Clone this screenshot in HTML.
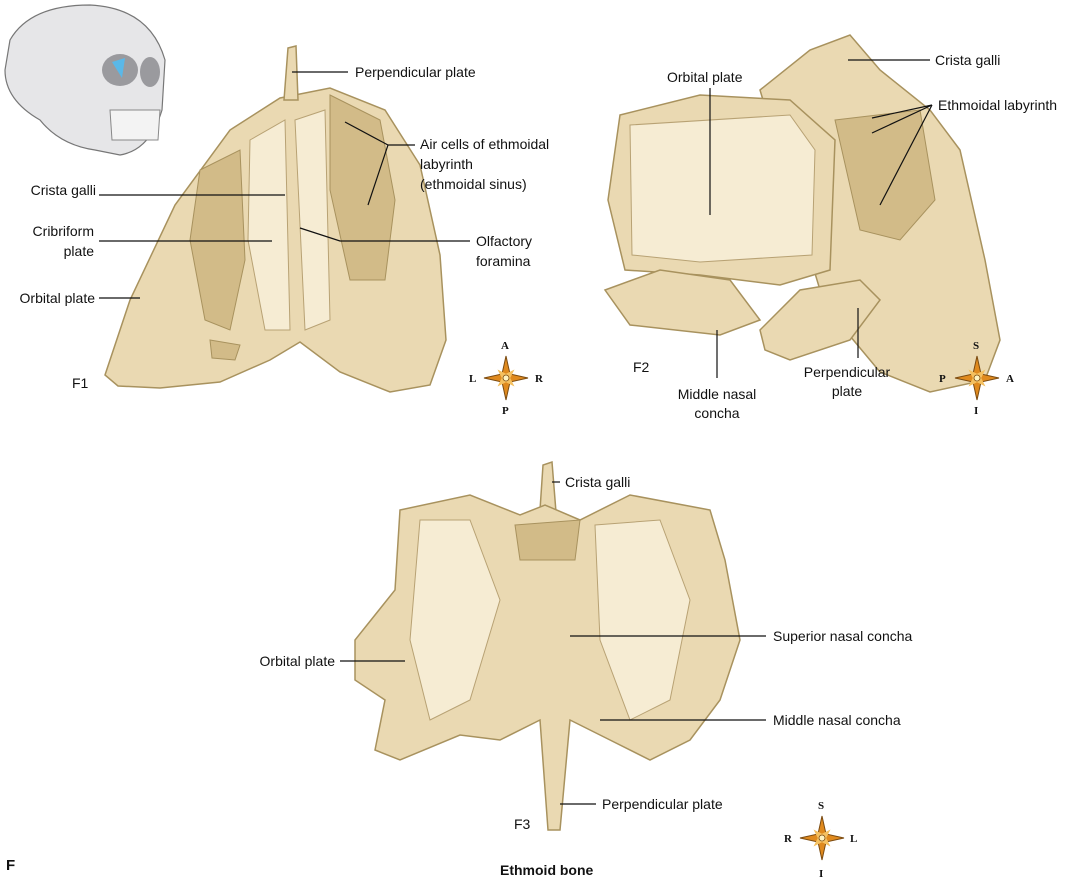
<!DOCTYPE html>
<html><head><meta charset="utf-8"><style>
html,body{margin:0;padding:0;background:#fff;}
svg{display:block;}
text{font-family:"Liberation Sans",sans-serif;font-size:14px;fill:#111;}
.b{fill:#ead9b2;stroke:#a8925e;stroke-width:1.5;}
.d{fill:#d2bb88;stroke:#a8925e;stroke-width:1;}
.l{fill:#f6ecd3;stroke:#b8a274;stroke-width:1;}
.ln{stroke:#111;stroke-width:1.2;fill:none;}
</style></head><body>
<svg width="1076" height="877" viewBox="0 0 1076 877" xmlns="http://www.w3.org/2000/svg">
<defs>
<g id="rose">
<polygon points="0,-22 4,-4 22,0 4,4 0,22 -4,4 -22,0 -4,-4" fill="#e08a1e" stroke="#7a4a10" stroke-width="1"/>
<polygon points="0,-12 3,-3 12,0 3,3 0,12 -3,3 -12,0 -3,-3" fill="#f4c060" transform="rotate(45)"/>
<circle r="3" fill="#fff3c0" stroke="#7a4a10" stroke-width="0.8"/>
</g>
</defs>
<!-- skull -->
<g>
<path d="M10,40 Q30,5 90,5 Q150,8 165,60 L162,110 Q150,150 120,155 L95,150 Q60,145 40,120 Q5,100 5,70 Z" fill="#e6e6e8" stroke="#777" stroke-width="1.2"/>
<ellipse cx="120" cy="70" rx="18" ry="16" fill="#9a9a9e"/>
<ellipse cx="150" cy="72" rx="10" ry="15" fill="#9a9a9e"/>
<path d="M112,62 L125,58 L122,78 Z" fill="#5ab8e8"/>
<path d="M110,110 L160,110 L158,140 L112,140 Z" fill="#f3f3f3" stroke="#888"/>
</g>
<!-- F1 bone -->
<path class="b" d="M105,375 L130,300 L175,205 L230,130 L280,98 L330,88 L385,110 L420,165 L440,255 L446,340 L430,385 L390,392 L340,372 L300,342 L270,360 L220,382 L160,388 L118,386 Z"/>
<path class="b" d="M284,100 L288,48 L296,46 L298,100 Z"/>
<path class="d" d="M200,170 L240,150 L245,260 L230,330 L205,320 L190,240 Z"/>
<path class="d" d="M330,95 L380,120 L395,200 L385,280 L350,280 L330,190 Z"/>
<path class="l" d="M250,140 L285,120 L290,330 L265,330 L248,240 Z"/>
<path class="l" d="M295,120 L325,110 L330,320 L305,330 Z"/>
<path class="d" d="M210,340 L240,345 L235,360 L212,358 Z"/>
<!-- F2 bone -->
<path class="b" d="M760,90 L810,50 L850,35 L880,70 L930,110 L960,150 L985,260 L1000,340 L985,380 L930,392 L880,372 L845,330 L820,290 Z"/>
<path class="b" d="M620,115 L700,95 L790,100 L835,140 L830,270 L780,285 L700,275 L625,270 L608,200 Z"/>
<path class="l" d="M630,125 L790,115 L815,150 L812,255 L700,262 L632,255 Z"/>
<path class="d" d="M835,120 L920,110 L935,200 L900,240 L860,230 Z"/>
<path class="b" d="M605,290 L660,270 L730,280 L760,320 L720,335 L630,325 Z"/>
<path class="b" d="M760,330 L800,290 L860,280 L880,300 L850,340 L790,360 L765,350 Z"/>
<!-- F3 bone -->
<path class="b" d="M540,510 L543,465 L552,462 L556,512 Z"/>
<path class="b" d="M400,510 L470,495 L520,515 L545,505 L580,520 L630,495 L710,510 L725,560 L740,640 L720,700 L690,740 L650,760 L610,740 L570,720 L560,830 L548,830 L540,720 L500,740 L460,735 L400,760 L375,750 L385,700 L355,680 L355,640 L395,590 Z"/>
<path class="l" d="M420,520 L470,520 L500,600 L470,700 L430,720 L410,640 Z"/>
<path class="l" d="M595,525 L660,520 L690,600 L670,700 L630,720 L600,640 Z"/>
<path class="d" d="M515,525 L580,520 L575,560 L520,560 Z"/>
<!-- roses -->
<use href="#rose" x="506" y="378"/>
<use href="#rose" x="977" y="378"/>
<use href="#rose" x="822" y="838"/>
<g style="font-family:'Liberation Serif',serif;font-size:11px;font-weight:bold">
<text x="501" y="349" style="font-family:'Liberation Serif',serif;font-size:11px;font-weight:bold">A</text>
<text x="502" y="414" style="font-family:'Liberation Serif',serif;font-size:11px;font-weight:bold">P</text>
<text x="469" y="382" style="font-family:'Liberation Serif',serif;font-size:11px;font-weight:bold">L</text>
<text x="535" y="382" style="font-family:'Liberation Serif',serif;font-size:11px;font-weight:bold">R</text>
<text x="973" y="349" style="font-family:'Liberation Serif',serif;font-size:11px;font-weight:bold">S</text>
<text x="974" y="414" style="font-family:'Liberation Serif',serif;font-size:11px;font-weight:bold">I</text>
<text x="939" y="382" style="font-family:'Liberation Serif',serif;font-size:11px;font-weight:bold">P</text>
<text x="1006" y="382" style="font-family:'Liberation Serif',serif;font-size:11px;font-weight:bold">A</text>
<text x="818" y="809" style="font-family:'Liberation Serif',serif;font-size:11px;font-weight:bold">S</text>
<text x="819" y="877" style="font-family:'Liberation Serif',serif;font-size:11px;font-weight:bold">I</text>
<text x="784" y="842" style="font-family:'Liberation Serif',serif;font-size:11px;font-weight:bold">R</text>
<text x="850" y="842" style="font-family:'Liberation Serif',serif;font-size:11px;font-weight:bold">L</text>
</g>
<!-- leader lines -->
<path class="ln" d="M292,72 H348"/>
<path class="ln" d="M415,145 H388 L345,122 M388,145 L368,205"/>
<path class="ln" d="M99,195 H285"/>
<path class="ln" d="M99,241 H272"/>
<path class="ln" d="M99,298 H140"/>
<path class="ln" d="M470,241 H340 L300,228"/>
<path class="ln" d="M710,88 V215"/>
<path class="ln" d="M848,60 H930"/>
<path class="ln" d="M932,105 L872,118 M932,105 L872,133 M932,105 L880,205"/>
<path class="ln" d="M717,330 V378"/>
<path class="ln" d="M858,308 V358"/>
<path class="ln" d="M552,482 H560"/>
<path class="ln" d="M570,636 H766"/>
<path class="ln" d="M340,661 H405"/>
<path class="ln" d="M600,720 H766"/>
<path class="ln" d="M560,804 H596"/>
<!-- labels -->
<text x="355" y="77">Perpendicular plate</text>
<text x="420" y="149">Air cells of ethmoidal</text>
<text x="420" y="169">labyrinth</text>
<text x="420" y="189">(ethmoidal sinus)</text>
<text x="96" y="195" text-anchor="end">Crista galli</text>
<text x="94" y="236" text-anchor="end">Cribriform</text>
<text x="94" y="256" text-anchor="end">plate</text>
<text x="95" y="303" text-anchor="end">Orbital plate</text>
<text x="476" y="246">Olfactory</text>
<text x="476" y="266">foramina</text>
<text x="72" y="388">F1</text>
<text x="667" y="82">Orbital plate</text>
<text x="935" y="65">Crista galli</text>
<text x="938" y="110">Ethmoidal labyrinth</text>
<text x="633" y="372">F2</text>
<text x="717" y="399" text-anchor="middle">Middle nasal</text>
<text x="717" y="418" text-anchor="middle">concha</text>
<text x="847" y="377" text-anchor="middle">Perpendicular</text>
<text x="847" y="396" text-anchor="middle">plate</text>
<text x="565" y="487">Crista galli</text>
<text x="773" y="641">Superior nasal concha</text>
<text x="335" y="666" text-anchor="end">Orbital plate</text>
<text x="773" y="725">Middle nasal concha</text>
<text x="602" y="809">Perpendicular plate</text>
<text x="514" y="829">F3</text>
<text x="6" y="870" style="font-weight:bold;font-size:15px">F</text>
<text x="500" y="875" style="font-weight:bold">Ethmoid bone</text>
</svg>
</body></html>
